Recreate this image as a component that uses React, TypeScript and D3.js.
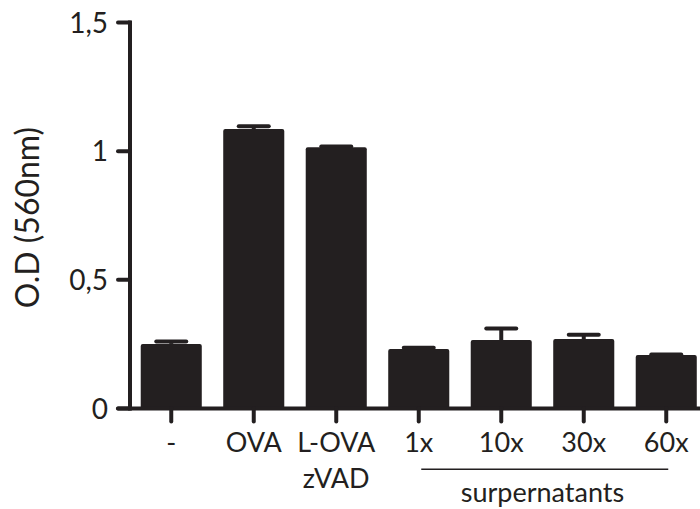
import React from "react";
import * as d3 from "d3";

const categories = ["-", "OVA", "L-OVA", "1x", "10x", "30x", "60x"];
const subLabels = ["", "", "zVAD", "", "", "", ""];
const values = [0.251, 1.086, 1.015, 0.231, 0.266, 0.27, 0.208];
const errors = [0.009, 0.011, 0.003, 0.005, 0.045, 0.017, 0.002];
const yTicks = [0, 0.5, 1, 1.5];
const yTickLabels = ["0", "0,5", "1", "1,5"];
const groupLabel = "surpernatants";
const groupMembers = ["1x", "60x"];

const W = 700;
const H = 509;
const ink = "#231f20";
const font = "Lato, 'Open Sans', sans-serif";

export default function App() {
  const y = d3.scaleLinear().domain([0, 1.5]).range([408.5, 22.5]);
  const x = d3
    .scaleBand<string>()
    .domain(categories)
    .range([130, 707.5])
    .paddingInner(0.26)
    .paddingOuter(0.13);
  const bw = x.bandwidth();
  const cx = (c: string) => (x(c) as number) + bw / 2;
  const y0 = y(0);

  return (
    <svg
      width={W}
      height={H}
      style={{ position: "absolute", left: 0, top: 0, background: "#fff" }}
    >
      {categories.map((c, i) => (
        <g key={c}>
          {errors[i] > 0 && (
            <g stroke={ink} strokeWidth={4}>
              <line x1={cx(c)} x2={cx(c)} y1={y(values[i])} y2={y(values[i] + errors[i])} />
              <line
                x1={cx(c) - 15}
                x2={cx(c) + 15}
                y1={y(values[i] + errors[i])}
                y2={y(values[i] + errors[i])}
                strokeLinecap="round"
              />
            </g>
          )}
          <rect
            x={x(c)}
            y={y(values[i])}
            width={bw}
            height={y0 - y(values[i])}
            fill={ink}
            rx={2}
          />
        </g>
      ))}

      <line x1={130} x2={130} y1={y(1.5) - 2} y2={y0 + 2} stroke={ink} strokeWidth={4} />
      {yTicks.map((t, i) => (
        <g key={t}>
          <line
            x1={118}
            x2={130}
            y1={y(t)}
            y2={y(t)}
            stroke={ink}
            strokeWidth={4}
            strokeLinecap="round"
          />
          <text
            x={108}
            y={y(t) + 10}
            textAnchor="end"
            fontFamily={font}
            fontSize={28}
            fill={ink}
          >
            {yTickLabels[i]}
          </text>
        </g>
      ))}
      <text
        transform="translate(39,217.5) rotate(-90)"
        textAnchor="middle"
        fontFamily={font}
        fontSize={32}
        fill={ink}
      >
        O.D (560nm)
      </text>

      <line x1={118} x2={W} y1={y0} y2={y0} stroke={ink} strokeWidth={4} strokeLinecap="round" />
      {categories.map((c, i) => (
        <g key={"t" + c}>
          <line
            x1={cx(c)}
            x2={cx(c)}
            y1={y0}
            y2={y0 + 13}
            stroke={ink}
            strokeWidth={4}
            strokeLinecap="round"
          />
          <text
            x={cx(c)}
            y={451.7}
            textAnchor="middle"
            fontFamily={font}
            fontSize={27}
            fill={ink}
          >
            {c}
          </text>
          {subLabels[i] && (
            <text
              x={cx(c)}
              y={488.3}
              textAnchor="middle"
              fontFamily={font}
              fontSize={27}
              fill={ink}
            >
              {subLabels[i]}
            </text>
          )}
        </g>
      ))}

      <line
        x1={cx(groupMembers[0]) + 2.5}
        x2={cx(groupMembers[1]) + 2}
        y1={469.3}
        y2={469.3}
        stroke={ink}
        strokeWidth={1.5}
      />
      <text
        x={(cx(groupMembers[0]) + cx(groupMembers[1])) / 2}
        y={501.7}
        textAnchor="middle"
        fontFamily={font}
        fontSize={27}
        fill={ink}
      >
        {groupLabel}
      </text>
    </svg>
  );
}
